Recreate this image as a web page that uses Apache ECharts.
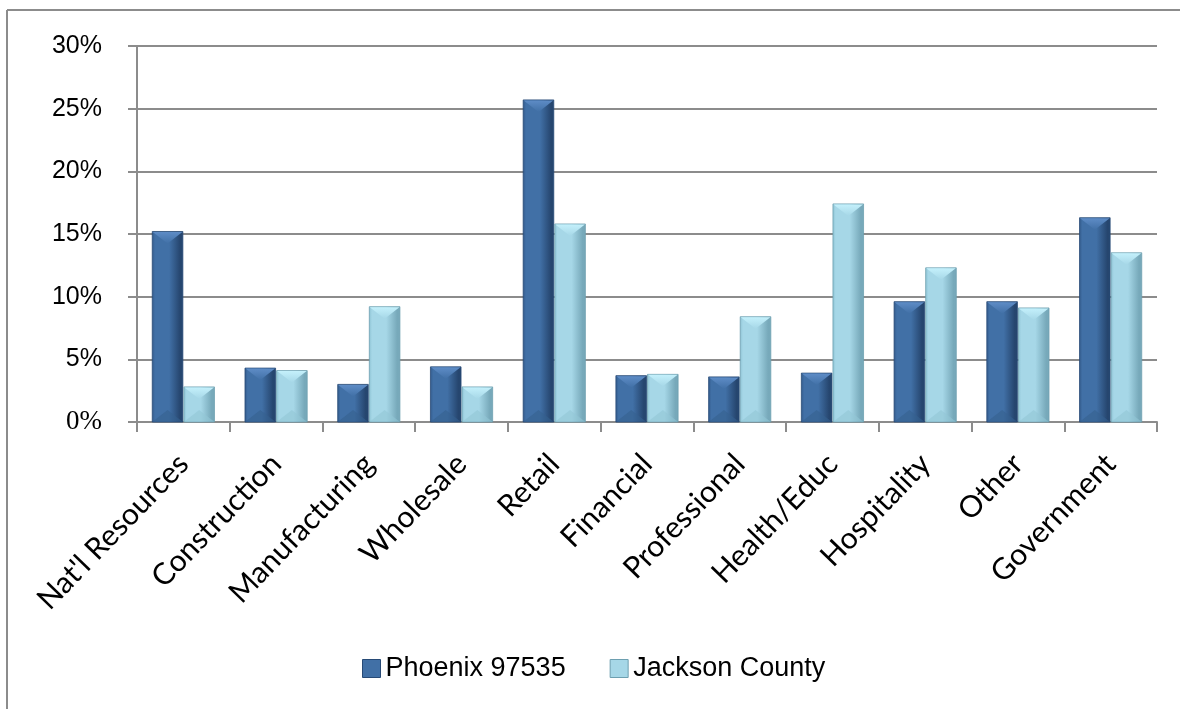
<!DOCTYPE html>
<html>
<head>
<meta charset="utf-8">
<script src="https://cdn.jsdelivr.net/npm/echarts@6/dist/echarts.min.js"></script>
<style>
  html, body { margin: 0; padding: 0; background: #ffffff; }
  #chart { width: 1180px; height: 709px; }
</style>
</head>
<body>
<div id="chart"></div>
<script>
// Employment share by industry sector (percent)
const categories = ["Nat'l Resources", 'Construction', 'Manufacturing', 'Wholesale', 'Retail',
  'Financial', 'Professional', 'Health/Educ', 'Hospitality', 'Other', 'Government'];
const phoenix = [15.2, 4.3, 3.0, 4.4, 25.7, 3.7, 3.6, 3.9, 9.6, 9.6, 16.3];
const jackson = [2.8, 4.1, 9.2, 2.8, 15.8, 3.8, 8.4, 17.4, 12.3, 9.1, 13.5];
const seriesNames = ['Phoenix 97535', 'Jackson County'];
const yTicks = [0, 5, 10, 15, 20, 25, 30];

// Bevelled bar palettes
const palettes = [
  { edgeL: '#32598a', mid: '#4170a6', edgeR: '#26466f', top: '#5e8cc6', bottom: '#35608f', stroke: '#274a76' },
  { edgeL: '#8cc2d3', mid: '#a6d7e7', edgeR: '#77a9ba', top: '#c4f0fb', bottom: '#93c6d6', stroke: '#6d9fb0' }
];

function bevelBar(seriesIndex) {
  const pal = palettes[seriesIndex];
  return function (params, api) {
    const cat = api.value(0);
    const val = api.value(1);
    const base = api.coord([cat, 0]);
    const top = api.coord([cat, val]);
    const band = api.size([1, 0])[0];
    const w = band * 0.33;
    const x0 = seriesIndex === 0 ? base[0] - w - 0.5 : base[0] + 0.5;
    const x1 = x0 + w;
    const yt = top[1];
    const yb = base[1];
    const h = Math.min(12, (yb - yt) / 2.5);
    const xc = (x0 + x1) / 2;
    return {
      type: 'group',
      children: [
        {
          type: 'rect',
          shape: { x: x0, y: yt, width: w, height: yb - yt },
          style: {
            fill: new echarts.graphic.LinearGradient(0, 0, 1, 0, [
              { offset: 0, color: pal.edgeL },
              { offset: 0.1, color: pal.mid },
              { offset: 0.55, color: pal.mid },
              { offset: 0.9, color: pal.edgeR },
              { offset: 1, color: pal.edgeR }
            ]),
            stroke: pal.stroke,
            lineWidth: 0.8
          }
        },
        {
          type: 'polygon',
          shape: { points: [[x0 + 0.5, yt + 0.5], [x1 - 0.5, yt + 0.5], [xc, yt + h]] },
          style: {
            fill: new echarts.graphic.LinearGradient(0, 0, 0, 1, [
              { offset: 0, color: pal.top },
              { offset: 1, color: pal.mid }
            ])
          }
        },
        {
          type: 'polygon',
          shape: { points: [[x0 + 0.5, yb - 0.5], [x1 - 0.5, yb - 0.5], [xc, yb - h]] },
          style: { fill: pal.bottom, opacity: 0.6 }
        }
      ]
    };
  };
}

const chart = echarts.init(document.getElementById('chart'), null, { renderer: 'canvas' });

const gray = '#8c8c8c';

chart.setOption({
  animation: false,
  backgroundColor: '#ffffff',
  grid: { left: 137, right: 23, top: 46, bottom: 287, containLabel: false },
  legend: {
    data: seriesNames.map((n, i) => ({ name: n, icon: 'rect', itemStyle: { color: palettes[i].mid, borderColor: palettes[i].stroke, borderWidth: 1 } })),
    left: 357,
    top: 650,
    itemWidth: 18,
    itemHeight: 18,
    itemGap: 44,
    textStyle: { fontFamily: 'Liberation Sans, Arial, sans-serif', fontSize: 27, color: '#000000' }
  },
  xAxis: {
    type: 'category',
    data: categories,
    boundaryGap: true,
    axisLine: { show: true, lineStyle: { color: gray, width: 2 } },
    axisTick: { show: true, length: 10, lineStyle: { color: gray, width: 2 } },
    axisLabel: {
      interval: 0,
      rotate: 46,
      margin: 37,
      fontFamily: 'Lato, "Open Sans", sans-serif',
      fontSize: 30,
      color: '#000000'
    },
    splitLine: { show: false }
  },
  yAxis: {
    type: 'value',
    min: yTicks[0],
    max: yTicks[yTicks.length - 1],
    interval: 5,
    axisLine: { show: true, lineStyle: { color: gray, width: 2 } },
    axisTick: { show: true, length: 9, lineStyle: { color: gray, width: 2 } },
    splitLine: { show: true, lineStyle: { color: gray, width: 2 } },
    axisLabel: {
      margin: 35,
      formatter: function (v) {
        return v === 0 ? '{serif|' + v + '%}' : '{sans|' + v + '%}';
      },
      rich: {
        sans: { fontFamily: 'Liberation Sans, Arial, sans-serif', fontSize: 25, color: '#000000' },
        serif: { fontFamily: 'Liberation Serif, "Times New Roman", serif', fontSize: 27, color: '#000000' }
      }
    }
  },
  series: [phoenix, jackson].map((vals, i) => ({
    name: seriesNames[i],
    type: 'custom',
    itemStyle: { color: palettes[i].mid },
    renderItem: bevelBar(i),
    encode: { x: 0, y: 1 },
    data: vals.map((v, k) => [k, v]),
    z: 3
  })),
  graphic: [
    { type: 'line', shape: { x1: 7, y1: 10, x2: 1182, y2: 10 }, style: { stroke: gray, lineWidth: 2 } },
    { type: 'line', shape: { x1: 7, y1: 10, x2: 7, y2: 711 }, style: { stroke: gray, lineWidth: 2 } }
  ]
});
</script>
</body>
</html>
